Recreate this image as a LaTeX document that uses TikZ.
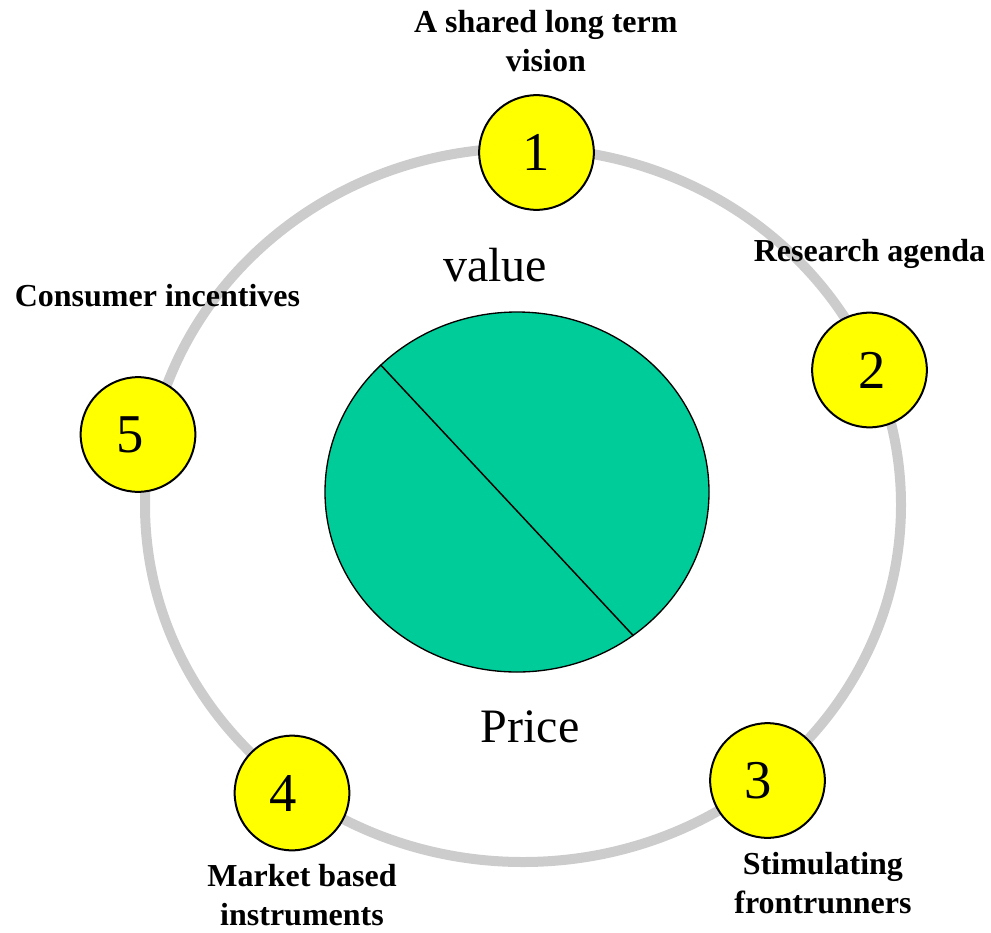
\documentclass[tikz,border=0pt]{standalone}
\usepackage{fontspec}
\setmainfont{Liberation Serif}
\usetikzlibrary{shapes.geometric,positioning}

\definecolor{ringgray}{HTML}{CCCCCC}
\definecolor{coregreen}{HTML}{00CC99}
\definecolor{stageyellow}{HTML}{FFFF00}

\begin{document}
\begin{tikzpicture}[x=0.75pt,y=-0.75pt,on grid,
	stage/.style={circle,draw,line width=1.5pt,fill=stageyellow,minimum size=86pt,inner sep=0pt,font=\fontsize{41}{49}\selectfont},
	tag/.style={align=center,inner sep=0pt,font=\fontsize{24}{29}\selectfont\bfseries},
	word/.style={inner sep=0pt,font=\fontsize{36}{43}\selectfont}]
			\useasboundingbox (0,0) rectangle (991,932);
			\draw[ringgray,line width=7.5pt] (523,505) ellipse [x radius=378,y radius=357];
			\node[ellipse,draw,line width=1pt,fill=coregreen,minimum width=288pt,minimum height=270pt,inner sep=0pt] (core) at (517,492) {};
			\draw[line width=1.1pt] (core.137) -- (core.-51);
			\node[word] (value) [above left=170pt and 16.5pt of core] {value};
			\node[word] (price) [below right=176pt and 9.75pt of core] {Price};
			\node[stage] (p_1) at (536.5,152.5) {1};
			\node[stage] (p_2) at (869.5,370) {\hspace*{4pt}2};
			\node[stage] (p_3) at (767.5,780.5) {\hspace*{-13.5pt}3};
			\node[stage] (p_4) at (292,793) {\hspace*{-13.5pt}4};
			\node[stage] (p_5) at (138,434.5) {\hspace*{-12pt}5};
			\node[tag] (l_1) [above right=83.6pt and 7pt of p_1] {A shared long term\\ vision};
			\node[tag] (l_2) [above=87.4pt of p_2] {Research agenda};
			\node[tag] (l_3) [below right=77pt and 41.6pt of p_3] {Stimulating\\ frontrunners};
			\node[tag] (l_4) [below right=76.5pt and 7.5pt of p_4] {Market based\\ instruments};
			\node[tag] (l_5) [above right=104pt and 14.6pt of p_5] {Consumer incentives};
		\end{tikzpicture}
\end{document}
